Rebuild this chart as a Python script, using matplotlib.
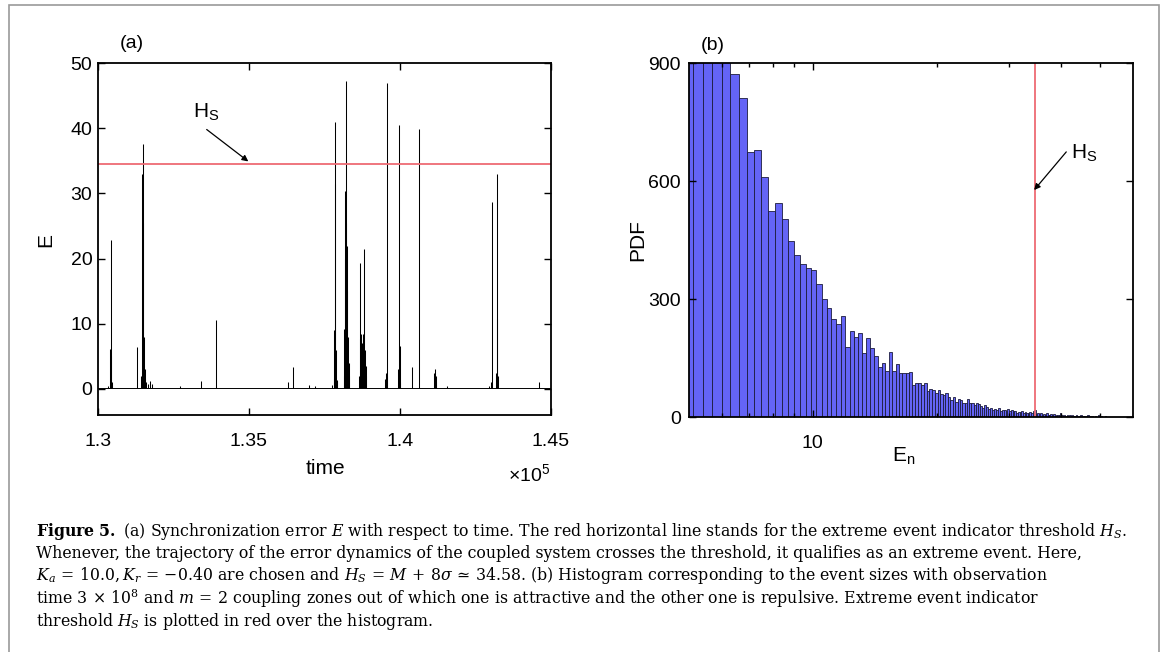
import numpy as np
import matplotlib
matplotlib.use('Agg')
import matplotlib.pyplot as plt
from matplotlib.patches import Rectangle
from matplotlib.ticker import FixedLocator, NullFormatter, FixedFormatter

plt.rcParams['font.family'] = ['Liberation Sans', 'DejaVu Sans']
plt.rcParams['mathtext.fontset'] = 'custom'
plt.rcParams['mathtext.rm'] = 'Liberation Sans'
plt.rcParams['mathtext.it'] = 'Liberation Sans:italic'
plt.rcParams['mathtext.bf'] = 'Liberation Sans:bold'

# ---------------- Panel (a): synchronization error vs time ----------------
time_range = [130000, 145000]
baseline_E = 0.12
spike_t = [130330, 130410, 130430, 130445, 130460,
           131280,
           131440, 131460, 131480, 131500, 131520, 131540, 131560, 131600, 131650, 131720, 131780,
           132700, 133410, 133900,
           136280, 136470, 137000, 137180,
           137760, 137800, 137820, 137840, 137855, 137870, 137900, 137920,
           138140, 138160, 138180, 138195, 138210, 138220, 138235, 138250, 138270, 138300, 138320,
           138650, 138670, 138690, 138710, 138730, 138750, 138770, 138790, 138820, 138840, 138860, 138880,
           139500, 139540, 139560, 139580,
           139940, 139970, 139985, 140000,
           140390, 140620,
           141140, 141160, 141180, 141200, 141550,
           142950, 143020, 143060, 143180, 143200, 143220, 143240,
           144610]
spike_E = [0.4, 6.2, 22.8, 5.0, 1.0,
           6.4,
           2.0, 33.0, 37.6, 25.5, 8.0, 3.0, 1.5, 1.0, 0.8, 1.2, 0.7,
           0.4, 1.2, 10.5,
           1.0, 3.4, 0.6, 0.5,
           0.6, 1.5, 9.0, 41.0, 31.4, 6.0, 1.4, 1.2,
           2.0, 9.2, 20.0, 30.3, 25.5, 47.2, 22.0, 15.0, 8.0, 4.0, 2.0,
           2.0, 7.7, 19.3, 8.4, 6.0, 7.0, 5.0, 8.4, 21.4, 6.0, 3.5, 2.0,
           1.5, 2.5, 47.0, 2.0,
           3.0, 40.5, 6.6, 1.0,
           3.4, 39.9,
           2.5, 3.0, 2.0, 1.0, 0.5,
           0.5, 1.0, 28.7, 2.5, 10.7, 33.0, 2.0,
           1.0]
threshold_HS = 34.58
xticks_a = [130000, 135000, 140000, 145000]
xticklabels_a = ['1.3', '1.35', '1.4', '1.45']
yticks_a = [0, 10, 20, 30, 40, 50]

# ---------------- Panel (b): histogram of event sizes ----------------
bin_start = 4.8
bin_width = 0.3
pdf_counts = [1420, 1330, 1150, 1010, 903, 871, 810, 674, 680, 609,
              524, 545, 504, 448, 412, 389, 379, 375, 339, 301,
              278, 249, 237, 257, 178, 219, 203, 214, 163, 200,
              175, 155, 127, 137, 118, 166, 118, 135, 112, 113,
              111, 115, 82, 87, 86, 82, 86, 66, 70, 69,
              60, 69, 58, 56, 60, 52, 43, 52, 39, 47,
              43, 36, 35, 47, 35, 35, 30, 36, 33, 28,
              22, 30, 26, 20, 24, 18, 20, 18, 22, 16,
              18, 18, 15, 20, 14, 18, 16, 14, 11, 13,
              12, 14, 10, 12, 11, 9, 12, 10, 14, 17,
              8, 9, 7, 9, 6, 8, 5, 9, 6, 4,
              7, 5, 8, 3, 6, 4, 5, 11, 4, 3,
              6, 2, 5, 3, 4, 2, 6, 3, 2, 4,
              1, 3, 2, 5, 1, 2, 3, 1, 2, 4,
              1, 2, 1, 3, 1, 0, 2, 1, 5, 1,
              0, 2, 1, 0, 1, 3, 0, 1, 0, 0, 1, 0]
xtick_major_b = [10]
xtick_minor_b = [6, 7, 8, 9, 20, 30, 40, 50]
yticks_b = [0, 300, 600, 900]

W, H = 1168, 652
fig = plt.figure(figsize=(W / 100, H / 100), dpi=100)


def rect(l, t, r, b):
    return [l / W, 1 - b / H, (r - l) / W, (b - t) / H]


def ftext(x, y, s, **kw):
    return fig.text(x / W, 1 - y / H, s, **kw)


# frame around the figure
fig.add_artist(Rectangle((9 / W, -0.02), (1159 - 9) / W, 1.0 - 5 / H + 0.02, transform=fig.transFigure,
                         fill=False, edgecolor='#9a9a9a', lw=1.2))

arrow_kw = dict(arrowstyle='-|>', color='black', lw=0.9, mutation_scale=9, shrinkA=0, shrinkB=0)

# ---- panel a
axa = fig.add_axes(rect(98, 63, 551, 415))
axa.plot(time_range, [baseline_E, baseline_E], color='black', lw=0.7)
axa.vlines(spike_t, baseline_E, spike_E, color='black', lw=0.75)
axa.axhline(threshold_HS, color='#ee6b74', lw=1.3)
axa.set_xlim(*time_range)
axa.set_ylim(-4, 50)
axa.set_xticks(xticks_a)
axa.set_xticklabels(xticklabels_a)
axa.set_yticks(yticks_a)
axa.tick_params(direction='in', top=True, right=True, length=5, width=1.0, labelsize=14, pad=4)
axa.tick_params(axis='x', pad=13)
for s in axa.spines.values():
    s.set_linewidth(1.3)
axa.annotate('', xy=(134977, 34.9), xytext=(133599, 39.8), arrowprops=arrow_kw)
axa.text(133146, 42.4, r'$\mathregular{H_S}$', fontsize=15, ha='left', va='center')

# ---- panel b
axb = fig.add_axes(rect(689, 63, 1133, 417))
edges = bin_start + bin_width * np.arange(len(pdf_counts))
axb.bar(edges, pdf_counts, width=bin_width, align='edge', color='#6464f6',
        edgecolor='#1c1c3c', linewidth=0.6)
axb.set_xscale('log')
axb.set_xlim(5, 60)
axb.set_ylim(0, 900)
axb.axvline(threshold_HS, color='#ee6b74', lw=1.3)
axb.xaxis.set_major_locator(FixedLocator(xtick_major_b))
axb.xaxis.set_major_formatter(FixedFormatter([str(v) for v in xtick_major_b]))
axb.xaxis.set_minor_locator(FixedLocator(xtick_minor_b))
axb.xaxis.set_minor_formatter(NullFormatter())
axb.set_yticks(yticks_b)
axb.tick_params(which='both', direction='in', top=True, right=True, length=5, width=1.0,
                labelsize=14, pad=6)
axb.tick_params(which='minor', length=3)
axb.tick_params(axis='x', pad=13)
for s in axb.spines.values():
    s.set_linewidth(1.3)
axb.annotate('', xy=(34.5, 577), xytext=(41.3, 674), arrowprops=arrow_kw)
axb.text(42.5, 670, r'$\mathregular{H_S}$', fontsize=15, ha='left', va='center')

# labels
ftext(132, 44, '(a)', fontsize=14, ha='center', va='center')
ftext(713, 46, '(b)', fontsize=14, ha='center', va='center')
ftext(325, 468, 'time', fontsize=15, ha='center', va='center')
ftext(550, 474, r'$\times\mathregular{10^5}$', fontsize=14, ha='right', va='center')
ftext(46, 240, 'E', fontsize=15, ha='center', va='center', rotation=90)
ftext(638, 240, 'PDF', fontsize=15, ha='center', va='center', rotation=90)
ftext(892, 456, r'$\mathregular{E_n}$', fontsize=15, ha='left', va='center')

# caption
cap = [
    r'$\mathbf{Figure\ 5.}$ (a) Synchronization error $E$ with respect to time. The red horizontal line stands for the extreme event indicator threshold $H_S$.',
    r'Whenever, the trajectory of the error dynamics of the coupled system crosses the threshold, it qualifies as an extreme event. Here,',
    r'$K_a\,=\,10.0, K_r\,=\,{-}0.40$ are chosen and $H_S\,=\,M\,+\,8\sigma\,\simeq\,34.58$. (b) Histogram corresponding to the event sizes with observation',
    r'time $3\,\times\,10^8$ and $m\,=\,2$ coupling zones out of which one is attractive and the other one is repulsive. Extreme event indicator',
    r'threshold $H_S$ is plotted in red over the histogram.',
]
cap_y = [531, 553.5, 576, 598.5, 621]
for s, y in zip(cap, cap_y):
    t = ftext(36, y, s, fontsize=11.3, ha='left', va='center', family='DejaVu Serif')
    t.set_math_fontfamily('dejavuserif')

fig.savefig('out.png', dpi=100)
